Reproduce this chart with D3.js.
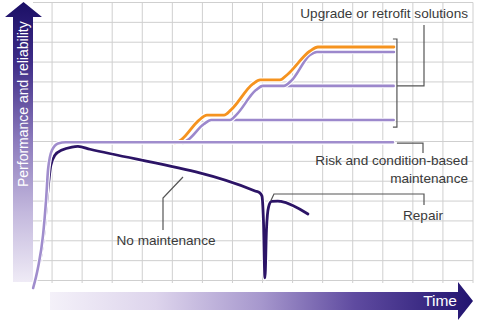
<!DOCTYPE html>
<html>
<head>
<meta charset="utf-8">
<script src="https://cdn.jsdelivr.net/npm/d3@7"></script>
<style>
  body { margin: 0; background: #fff; }
  svg { display: block; font-family: "Liberation Sans", Arial, sans-serif; }
</style>
</head>
<body>
<div id="chart"></div>
<script>
// Datos (tiempo en columnas de la rejilla, rendimiento en filas)
const maintT = [0.37, 0.53, 0.70, 0.80, 0.87, 1.00, 1.20, 1.45, 1.70, 12.34];
const maintP = [-0.38, 0.63, 2.29, 4.05, 5.64, 6.57, 6.90, 6.96, 6.96, 6.96];

const noMaintT = [0.60, 0.73, 0.83, 0.96, 1.10, 1.33, 1.66, 1.86, 2.26, 7.75, 7.91, 7.98, 8.03, 8.08, 8.13, 8.20, 8.30, 8.51, 8.61, 9.51];
const noMaintP = [1.00, 2.40, 4.05, 5.81, 6.32, 6.57, 6.72, 6.75, 6.61, 4.51, 4.41, 4.26, 3.05, 0.13, 2.54, 3.70, 3.98, 4.00, 3.98, 3.35];

const upgradeT = [5.09, 5.29, 5.89, 6.15, 6.72, 6.95, 7.68, 7.92, 8.58, 8.81, 9.58, 9.84, 12.37];
const upgradeP = [6.92, 7.08, 8.08, 8.33, 8.33, 8.59, 9.90, 10.10, 10.10, 10.35, 11.56, 11.76, 11.76];

const retrofitT = [5.35, 5.52, 6.05, 6.29, 6.92, 7.12, 7.78, 8.01, 8.71, 8.95, 9.58, 9.81, 12.37];
const retrofitP = [6.92, 7.08, 7.88, 8.08, 8.08, 8.33, 9.59, 9.80, 9.80, 10.05, 11.36, 11.51, 11.51];

// niveles planos que se quedan en cada escalón
const stepLevels = [8.08, 9.80];
const stepStarts = [6.29, 8.01];
const stepEnd = 12.36;

const labels = {
  y: "Performance and reliability",
  x: "Time",
  upgrade: "Upgrade or retrofit solutions",
  risk: ["Risk and condition-based", "maintenance"],
  repair: "Repair",
  none: "No maintenance"
};

// Configuración
const width = 477, height = 322;
const x = d3.scaleLinear().domain([0, 15]).range([22, 473]);
const y = d3.scaleLinear().domain([0, 14]).range([280.5, 2.5]);

const svg = d3.select("#chart").append("svg")
  .attr("width", width).attr("height", height);

const defs = svg.append("defs");
const gy = defs.append("linearGradient").attr("id", "gy")
  .attr("x1", 0).attr("y1", 0).attr("x2", 0).attr("y2", 1);
[["0%", "#1b0f66"], ["22%", "#3f2d88"], ["50%", "#8d7cbd"], ["75%", "#c3b8dd"], ["100%", "#efebf6"]]
  .forEach(s => gy.append("stop").attr("offset", s[0]).attr("stop-color", s[1]));
const gx = defs.append("linearGradient").attr("id", "gx")
  .attr("x1", 0).attr("y1", 0).attr("x2", 1).attr("y2", 0);
[["0%", "#f4f1f9"], ["25%", "#ddd4ec"], ["50%", "#a697cd"], ["72%", "#5f4ba0"], ["100%", "#221470"]]
  .forEach(s => gx.append("stop").attr("offset", s[0]).attr("stop-color", s[1]));

// rejilla
const grid = svg.append("g").attr("stroke", "#cfcfcf").attr("stroke-width", 1);
grid.selectAll(".h").data(d3.range(0, 15)).enter().append("line")
  .attr("x1", 33).attr("x2", x(15))
  .attr("y1", d => y(d)).attr("y2", d => y(d));
grid.selectAll(".v").data(d3.range(1, 16)).enter().append("line")
  .attr("x1", d => x(d)).attr("x2", d => x(d))
  .attr("y1", y(14)).attr("y2", 283);

// flechas de los ejes
svg.append("path").attr("fill", "url(#gy)")
  .attr("d", "M23.5,2 L42,17 L33,17 L33,282 L13,282 L13,17 L5,17 Z");
svg.append("path").attr("fill", "url(#gx)")
  .attr("d", "M50,292 L458,292 L458,282 L473,301 L458,320 L458,310 L50,310 Z");

svg.append("text")
  .attr("transform", "translate(28,187) rotate(-90)")
  .attr("fill", "#fff").attr("font-size", 14)
  .text(labels.y);
svg.append("text")
  .attr("x", 457).attr("y", 306).attr("text-anchor", "end")
  .attr("fill", "#fff").attr("font-size", 15.5)
  .text(labels.x);

const line = d3.line().x(d => x(d[0])).y(d => y(d[1])).curve(d3.curveMonotoneX);
const zip = (a, b) => a.map((v, i) => [v, b[i]]);

function drawLine(pts, color, w) {
  svg.append("path").attr("d", line(pts)).attr("fill", "none")
    .attr("stroke", "#fff").attr("stroke-width", w + 2.2).attr("stroke-linecap", "round");
  svg.append("path").attr("d", line(pts)).attr("fill", "none")
    .attr("stroke", color).attr("stroke-width", w).attr("stroke-linecap", "round");
}

stepLevels.forEach((lv, i) => drawLine([[stepStarts[i], lv], [stepEnd, lv]], "#9c88cc", 2.6));
drawLine(zip(retrofitT, retrofitP), "#9c88cc", 2.6);
drawLine(zip(upgradeT, upgradeP), "#f5931f", 2.8);
drawLine(zip(noMaintT, noMaintP), "#2c1466", 2.8);
drawLine(zip(maintT, maintP), "#a08dcd", 2.6);

// anotaciones
const ann = svg.append("g").attr("fill", "none").attr("stroke", "#555").attr("stroke-width", 1.2);
const bx = x(12.37) + 3;
ann.append("path").attr("d", `M${bx - 4},${y(11.76) - 8} H${bx} V${y(8.08) + 7} H${bx - 4}`);
ann.append("path").attr("d", `M${bx},${y(9.80)} H424 V25`);
ann.append("path").attr("d", `M${bx},${y(6.92)} H423 V153`);
ann.append("path").attr("d", `M${x(8.28)},${y(3.93) - 2} L${x(8.38)},194 H424 V205`);
ann.append("path").attr("d", `M163,230 V198 L183,177`);

const txt = svg.append("g").attr("fill", "#3a3a3a").attr("font-size", 13.6);
txt.append("text").attr("x", 468).attr("y", 18).attr("text-anchor", "end").text(labels.upgrade);
txt.append("text").attr("x", 468).attr("y", 165).attr("text-anchor", "end").text(labels.risk[0]);
txt.append("text").attr("x", 468).attr("y", 183).attr("text-anchor", "end").text(labels.risk[1]);
txt.append("text").attr("x", 423).attr("y", 220).attr("text-anchor", "middle").text(labels.repair);
txt.append("text").attr("x", 166).attr("y", 245).attr("text-anchor", "middle").text(labels.none);
</script>
</body>
</html>
